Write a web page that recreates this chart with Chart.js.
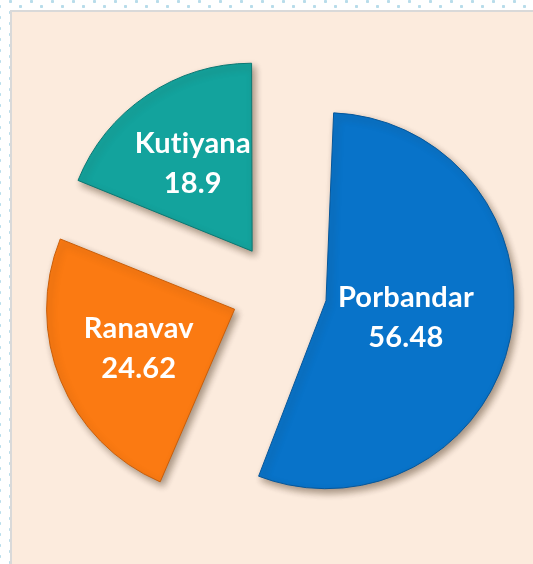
<!DOCTYPE html>
<html>
<head>
<meta charset="utf-8">
<script src="https://cdn.jsdelivr.net/npm/chart.js@4/dist/chart.umd.min.js"></script>
<style>
    html, body {
        margin: 0;
        padding: 0;
        width: 533px;
        height: 564px;
        overflow: hidden;
    }
    body {
        background-color: #ffffff;
        background-image:
            radial-gradient(circle, #b8dcea 1.3px, transparent 2px),
            radial-gradient(circle, #b8dcea 1.3px, transparent 2px);
        background-size: 21px 11px, 21px 11px;
        background-position: 0 -4px, 10px 1px;
        position: relative;
    }
    #panel {
        position: absolute;
        left: 10px;
        top: 10px;
        right: 0;
        bottom: 0;
        background: #fcebdd;
        border-top: 2px solid #d9d9d9;
        border-left: 2px solid #d9d9d9;
    }
    #chartWrap {
        position: absolute;
        left: 0;
        top: 0;
        width: 533px;
        height: 564px;
    }
</style>
</head>
<body>
<div id="panel"></div>
<div id="chartWrap"><canvas id="pieChart"></canvas></div>
<script>
const districts = ['Porbandar', 'Ranavav', 'Kutiyana'];
const shares = [56.48, 24.62, 18.9];
const sliceColors = ['#0873c9', '#fb7a12', '#13a39d'];
const edgeColors = ['#05569a', '#c95d08', '#0b7772'];

const PIE_RADIUS = 188;
const EXPLODE = 48;                // wanted gap in px
const SLICE_OFFSET = EXPLODE * 4;  // chart.js v4 draws offset / 4

// chart.js grows the radius of big (>180deg) slices by the offset,
// take that back so every slice keeps the same radius
const evenRadius = {
    id: 'evenRadius',
    afterDatasetUpdate(chart, args) {
        args.meta.data.forEach(arc => {
            const circ = arc.endAngle - arc.startAngle;
            const fix = 1 - Math.sin(Math.min(Math.PI, circ));
            arc.outerRadius = arc.outerRadius - (SLICE_OFFSET / 4) * fix;
        });
    }
};

// soft drop shadow under the slices
const sliceShadow = {
    id: 'sliceShadow',
    beforeDatasetsDraw(chart) {
        const ctx = chart.ctx;
        ctx.save();
        ctx.shadowColor = 'rgba(60, 40, 20, 0.45)';
        ctx.shadowBlur = 7;
        ctx.shadowOffsetX = 3;
        ctx.shadowOffsetY = 4;
    },
    afterDatasetsDraw(chart) {
        chart.ctx.restore();
    }
};

// white category + value text inside each slice
const sliceLabels = {
    id: 'sliceLabels',
    afterDatasetsDraw(chart) {
        const ctx = chart.ctx;
        const meta = chart.getDatasetMeta(0);
        const ds = chart.data.datasets[0];
        ctx.save();
        ctx.fillStyle = '#ffffff';
        ctx.textAlign = 'center';
        ctx.textBaseline = 'middle';
        ctx.font = 'bold 29px Lato';
        ctx.letterSpacing = '0.2px';
        meta.data.forEach((arc, i) => {
            const theta = arc.endAngle - arc.startAngle;
            const mid = arc.startAngle + theta / 2;
            // halfway between the sector centroid and half the radius
            const centroid = 4 * PIE_RADIUS * Math.sin(theta / 2) / (3 * theta);
            const dist = EXPLODE + (centroid + PIE_RADIUS * 0.5) / 2;
            const x = arc.x + Math.cos(mid) * dist;
            const y = arc.y + Math.sin(mid) * dist;
            ctx.fillText(chart.data.labels[i], x, y - 20);
            ctx.fillText(String(ds.data[i]), x, y + 20);
        });
        ctx.restore();
    }
};

new Chart(document.getElementById('pieChart'), {
    type: 'pie',
    data: {
        labels: districts,
        datasets: [{
            data: shares,
            backgroundColor: sliceColors,
            borderColor: edgeColors,
            borderWidth: 1,
            offset: SLICE_OFFSET
        }]
    },
    options: {
        responsive: true,
        maintainAspectRatio: false,
        animation: false,
        radius: PIE_RADIUS,
        layout: { padding: { left: 25, right: 0, top: 18, bottom: 0 } },
        plugins: {
            legend: { display: false },
            tooltip: { enabled: false }
        },
        events: []
    },
    plugins: [evenRadius, sliceShadow, sliceLabels]
});
</script>
</body>
</html>
